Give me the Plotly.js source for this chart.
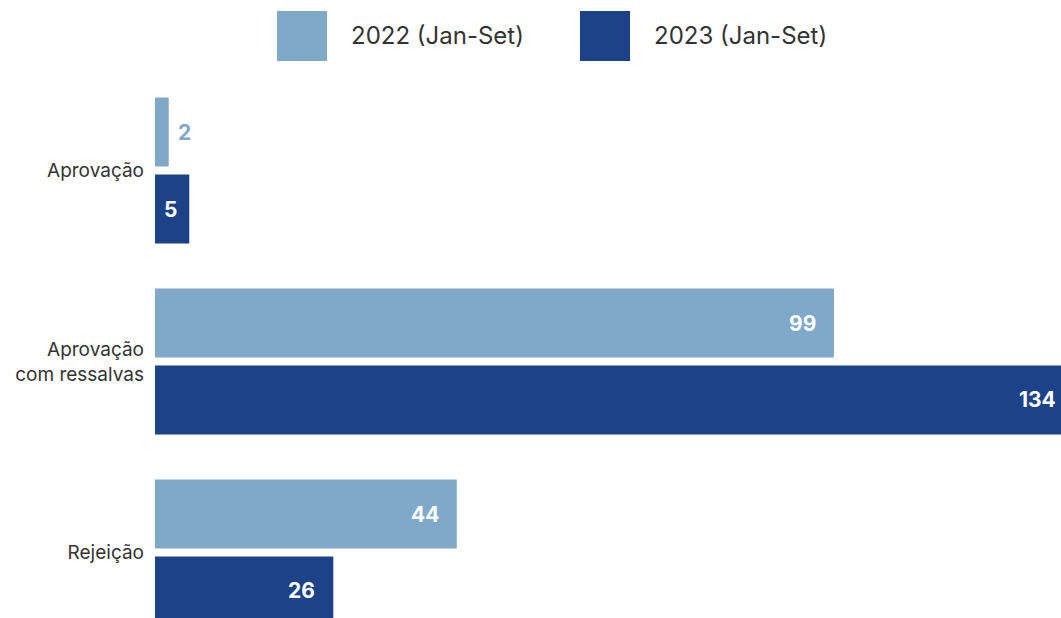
<!DOCTYPE html>
<html>
<head>
<meta charset="utf-8">
<script src="https://cdn.plot.ly/plotly-3.0.1.min.js"></script>
<style>
html,body{margin:0;padding:0;background:#fff;overflow:hidden;}
#wrap{width:1061px;height:618px;overflow:hidden;position:relative;}
#chart{width:1074px;height:618px;}
</style>
</head>
<body>
<div id="wrap"><div id="chart"></div></div>
<script>
const categories = ["Aprovação", "Aprovação<br>com ressalvas", "Rejeição"];
const seriesNames = ["2022 (Jan-Set)", "2023 (Jan-Set)"];
const values2022 = [2, 99, 44];
const values2023 = [5, 134, 26];
const colors = ["#7fa8c9", "#1c4288"];

const FONT = "Inter, 'Open Sans', sans-serif";
const W = 1074, H = 618, L = 155, T = 80;
const plotW = W - L, plotH = H - T;
const yRange = [2.343, -0.474];
const bargap = 0.194, bargroupgap = 0.104;

const series = [values2022, values2023];

const traces = series.map((vals, i) => ({
  type: "bar", orientation: "h", name: seriesNames[i],
  y: categories, x: vals,
  marker: {color: colors[i]},
  textposition: "none",
  showlegend: false, hoverinfo: "x+name"
}));

const shapes = [];
const annotations = [];

// legend drawn as paper-space squares + labels
const legendX = [277, 580];
seriesNames.forEach((n, i) => {
  shapes.push({type: "rect", xref: "paper", yref: "paper",
    x0: (legendX[i] - L) / plotW, x1: (legendX[i] + 50 - L) / plotW,
    y0: 1 + (T - 61) / plotH, y1: 1 + (T - 11) / plotH,
    fillcolor: colors[i], line: {width: 0}});
  annotations.push({xref: "paper", yref: "paper",
    x: (legendX[i] + 72 - L) / plotW, y: 1 + (T - 36) / plotH,
    xanchor: "left", yanchor: "middle", showarrow: false,
    text: n, font: {family: FONT, size: 24, color: "#333333"}});
});

// value labels positioned on the data scale
const catPx = plotH / Math.abs(yRange[0] - yRange[1]);
const slot = (1 - bargap) * catPx / 2;
series.forEach((vals, i) => {
  const ys = (0.5 - i) * slot;
  vals.forEach((v, j) => {
    const outside = v < 4;
    annotations.push({
      xref: "x", yref: "y", x: v, y: categories[j],
      yshift: ys, xshift: outside ? 7 : (v < 10 ? -10 : -16),
      xanchor: outside ? "left" : "right", yanchor: "middle",
      showarrow: false, text: String(v),
      font: {family: FONT, size: 21, weight: 700,
             color: outside ? colors[i] : "#ffffff"}
    });
  });
});

const layout = {
  width: W, height: H,
  margin: {l: L, r: 0, t: T, b: 0, pad: 0},
  paper_bgcolor: "#ffffff", plot_bgcolor: "#ffffff",
  barmode: "group", bargap: bargap, bargroupgap: bargroupgap,
  font: {family: FONT, color: "#333333"},
  xaxis: {range: [0, 134], visible: false, fixedrange: true},
  yaxis: {
    range: yRange,
    showgrid: false, zeroline: false, showline: false,
    ticks: "", ticklabelstandoff: 10,
    tickfont: {family: FONT, size: 19, color: "#333333"}
  },
  shapes: shapes,
  annotations: annotations,
  showlegend: false
};

Plotly.newPlot("chart", traces, layout, {displayModeBar: false, staticPlot: true});
</script>
</body>
</html>
